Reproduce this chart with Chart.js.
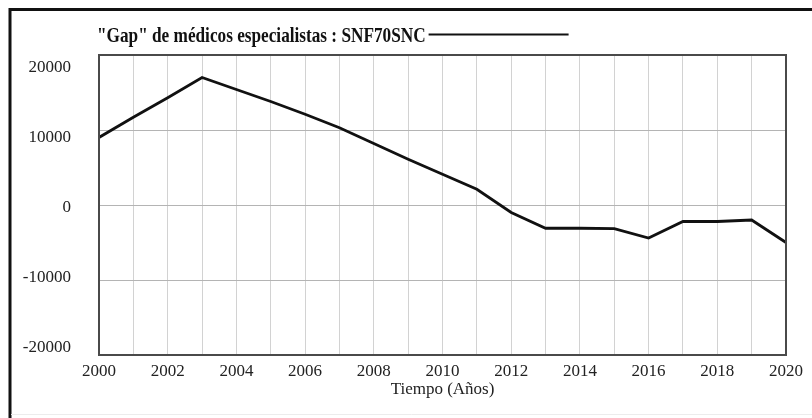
<!DOCTYPE html>
<html>
<head>
<meta charset="utf-8">
<script src="https://cdn.jsdelivr.net/npm/chart.js@4/dist/chart.umd.min.js"></script>
<style>
  html, body { margin: 0; padding: 0; background: #fff; }
  #wrap { width: 812px; height: 418px; }
</style>
</head>
<body>
<div id="wrap"><canvas id="c" width="812" height="418"></canvas></div>
<script>
// Simulated specialist-doctor gap, run SNF70SNC
const years = [2000, 2001, 2002, 2003, 2004, 2005, 2006, 2007, 2008, 2009, 2010,
               2011, 2012, 2013, 2014, 2015, 2016, 2017, 2018, 2019, 2020];
const gapValues = [9000, 11700, 14300, 17000, 15400, 13800, 12100, 10300, 8200, 6100, 4100,
                   2100, -1000, -3100, -3100, -3150, -4400, -2200, -2200, -2000, -5000];
const yTicks = [20000, 10000, 0, -10000, -20000];
const seriesLabel = '"Gap" de médicos especialistas : SNF70SNC';
const xTitle = 'Tiempo (Años)';

const serif = "'Liberation Serif', 'Times New Roman', serif";

// White page, heavy left/top frame, plot box and titled line key
const framePlugin = {
  id: 'frame',
  beforeDraw(chart) {
    const ctx = chart.ctx;
    ctx.save();
    ctx.fillStyle = '#fff';
    ctx.fillRect(0, 0, chart.width, chart.height);
    ctx.restore();
  },
  afterDraw(chart) {
    const ctx = chart.ctx;
    const a = chart.chartArea;
    ctx.save();
    // plot box
    ctx.strokeStyle = '#4a4a4a';
    ctx.lineWidth = 2;
    ctx.strokeRect(a.left, a.top, a.right - a.left, a.bottom - a.top);
    // outer frame
    ctx.strokeStyle = '#111';
    ctx.lineWidth = 3;
    ctx.beginPath();
    ctx.moveTo(10, chart.height);
    ctx.lineTo(10, 9.5);
    ctx.lineTo(chart.width, 9.5);
    ctx.stroke();
    ctx.strokeStyle = '#ececec';
    ctx.lineWidth = 1;
    ctx.beginPath();
    ctx.moveTo(11, 414.5);
    ctx.lineTo(chart.width, 414.5);
    ctx.stroke();
    // series caption with its line key
    ctx.font = 'bold 21px ' + serif;
    ctx.fillStyle = '#111';
    ctx.textBaseline = 'alphabetic';
    const sx = 0.82;
    const w = ctx.measureText(seriesLabel).width * sx;
    ctx.save();
    ctx.translate(a.left - 2, 41.5);
    ctx.scale(sx, 1);
    ctx.fillText(seriesLabel, 0, 0);
    ctx.restore();
    const kx = a.left - 2 + w + 3;
    ctx.strokeStyle = '#111';
    ctx.lineWidth = 2;
    ctx.beginPath();
    ctx.moveTo(kx, 34.5);
    ctx.lineTo(kx + 140, 34.5);
    ctx.stroke();
    ctx.restore();
  }
};

new Chart(document.getElementById('c'), {
  type: 'line',
  data: {
    datasets: [{
      label: seriesLabel,
      data: years.map((y, i) => ({ x: y, y: gapValues[i] })),
      borderColor: '#111',
      borderWidth: 2.8,
      pointRadius: 0,
      tension: 0,
      fill: false
    }]
  },
  options: {
    responsive: false,
    animation: false,
    devicePixelRatio: 1,
    layout: { padding: { top: 55, right: 26, left: 0, bottom: 0 } },
    plugins: { legend: { display: false }, tooltip: { enabled: false } },
    scales: {
      x: {
        type: 'linear',
        min: years[0],
        max: years[years.length - 1],
        grid: { color: '#d2d2d2', lineWidth: 1, drawTicks: false },
        border: { display: false },
        afterFit(scale) { scale.height = 63; },
        ticks: {
          stepSize: 1,
          autoSkip: false,
          maxRotation: 0,
          padding: 6,
          color: '#222',
          font: { family: serif, size: 17 },
          callback: v => (v % 2 === 0 ? String(v) : '')
        },
        title: {
          display: true,
          text: xTitle,
          color: '#222',
          font: { family: serif, size: 17 },
          padding: { top: 0, bottom: 18 }
        }
      },
      y: {
        type: 'linear',
        position: 'left',
        min: -20000,
        max: 20000,
        grid: { color: '#b4b4b4', lineWidth: 1, drawTicks: false },
        border: { display: false },
        ticks: { display: false, stepSize: 10000 },
        afterFit(scale) { scale.width = 0; }
      },
      yLabels: {
        type: 'linear',
        position: 'left',
        min: -21000,
        max: 21857,
        grid: { display: false, drawTicks: false },
        border: { display: false },
        afterBuildTicks(scale) { scale.ticks = yTicks.map(v => ({ value: v })); },
        afterFit(scale) { scale.width = 99; },
        ticks: {
          padding: 28,
          color: '#222',
          font: { family: serif, size: 17 },
          callback: v => String(v)
        }
      }
    }
  },
  plugins: [framePlugin]
});
</script>
</body>
</html>
